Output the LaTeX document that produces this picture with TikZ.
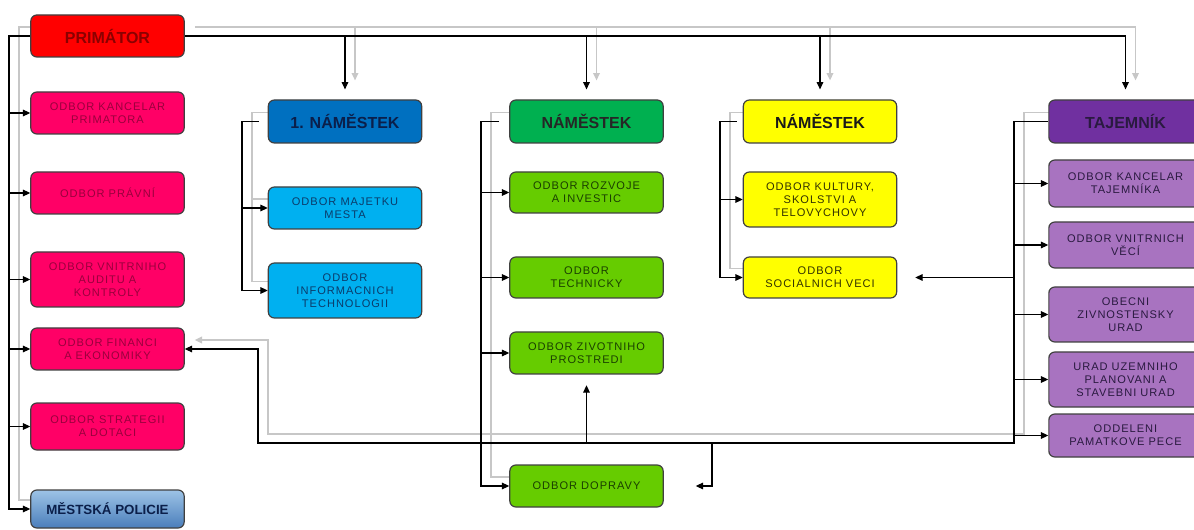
\documentclass[tikz,border=0pt]{standalone}
\usepackage{fontspec}
\setmainfont{Liberation Sans}
\newfontfamily\orgfont[LetterSpace=9]{Liberation Sans}
\usetikzlibrary{arrows.meta,backgrounds}

\definecolor{primred}{HTML}{FF0000}
\definecolor{primtext}{HTML}{8B0000}
\definecolor{pinkdept}{HTML}{FF0066}
\definecolor{pinktext}{HTML}{99003D}
\definecolor{poltop}{HTML}{9DC3E6}
\definecolor{polbot}{HTML}{4A7EBB}
\definecolor{poltext}{HTML}{0B1F4A}
\definecolor{bluehead}{HTML}{0070C0}
\definecolor{bluedept}{HTML}{00B0F0}
\definecolor{bluetext}{HTML}{0B3C6B}
\definecolor{greenhead}{HTML}{00B050}
\definecolor{greendept}{HTML}{66CC00}
\definecolor{greentext}{HTML}{1A4000}
\definecolor{yellowdept}{HTML}{FFFF00}
\definecolor{yellowtext}{HTML}{333300}
\definecolor{purplehead}{HTML}{7030A0}
\definecolor{purpledept}{HTML}{A873C0}
\definecolor{purpletext}{HTML}{2A1A40}

\tikzset{
  box/.style={draw=black!75,line width=0.9pt,rounded corners=4.5pt,
    minimum width=115pt,align=center,inner sep=1pt},
  head/.style={box,minimum height=32pt,font=\bfseries\fontsize{12}{14}\selectfont},
  dept/.style={box,font=\orgfont\fontsize{8.3}{9.6}\selectfont},
  wire/.style={line width=0.8pt,color=black},
  ghost/.style={line width=1.1pt,color=black!22}
}

\begin{document}
\begin{tikzpicture}[x=0.75pt,y=-0.75pt,>={Triangle[length=5.5pt,width=5pt]}]
\useasboundingbox (0,0) rectangle (1194,530);

% primator and his departments
\node[head,fill=primred,text=primtext,minimum height=31.5pt] (prim) at (107.5,36) {PRIMÁTOR};
\node[dept,fill=pinkdept,text=pinktext,minimum height=31.5pt] (kanc) at (107.5,113) {ODBOR KANCELAR\\PRIMATORA};
\node[dept,fill=pinkdept,text=pinktext,minimum height=31.5pt] (prav) at (107.5,193) {ODBOR PRÁVNÍ};
\node[dept,fill=pinkdept,text=pinktext,minimum height=41.25pt] (audit) at (107.5,279.5) {ODBOR VNITRNIHO\\AUDITU A\\KONTROLY};
\node[dept,fill=pinkdept,text=pinktext,minimum height=31.5pt] (fin) at (107.5,349) {ODBOR FINANCI\\A EKONOMIKY};
\node[dept,fill=pinkdept,text=pinktext,minimum height=35.25pt] (strat) at (107.5,426.5) {ODBOR STRATEGII\\A DOTACI};
\node[head,top color=poltop,bottom color=polbot,text=poltext,minimum height=28.5pt,
  font=\bfseries\fontsize{10}{12}\selectfont] (pol) at (107.5,509) {MĚSTSKÁ POLICIE};

% 1. namestek
\node[head,fill=bluehead,text=poltext,minimum height=32.25pt] (nam1) at (345,121.5) {1. NÁMĚSTEK};
\node[dept,fill=bluedept,text=bluetext,minimum height=31.5pt] (maj) at (345,208) {ODBOR MAJETKU\\MESTA};
\node[dept,fill=bluedept,text=bluetext,minimum height=41.25pt] (inf) at (345,290.5) {ODBOR\\INFORMACNICH\\TECHNOLOGII};

% namestek (green)
\node[head,fill=greenhead,text=black!85,minimum height=32.25pt] (nam2) at (586.5,121.5) {NÁMĚSTEK};
\node[dept,fill=greendept,text=greentext,minimum height=30.75pt] (rozv) at (586.5,192.5) {ODBOR ROZVOJE\\A INVESTIC};
\node[dept,fill=greendept,text=greentext,minimum height=30.75pt] (tech) at (586.5,277.5) {ODBOR\\TECHNICKY};
\node[dept,fill=greendept,text=greentext,minimum height=31.5pt] (ziv) at (586.5,353) {ODBOR ZIVOTNIHO\\PROSTREDI};
\node[dept,fill=greendept,text=greentext,minimum height=31.5pt] (dop) at (586.5,486) {ODBOR DOPRAVY};

% namestek (yellow)
\node[head,fill=yellowdept,text=black!90,minimum height=32.25pt] (nam3) at (820,121.5) {NÁMĚSTEK};
\node[dept,fill=yellowdept,text=yellowtext,minimum height=41.25pt] (kult) at (820,199.5) {ODBOR KULTURY,\\SKOLSTVI A\\TELOVYCHOVY};
\node[dept,fill=yellowdept,text=yellowtext,minimum height=30.75pt] (soc) at (820,277.5) {ODBOR\\SOCIALNICH VECI};

% tajemnik
\node[head,fill=purplehead,text=purpletext,minimum height=32.25pt] (taj) at (1125.5,121.5) {TAJEMNÍK};
\node[dept,fill=purpledept,text=purpletext,minimum height=35.25pt] (ktaj) at (1125.5,183.5) {ODBOR KANCELAR\\TAJEMNÍKA};
\node[dept,fill=purpledept,text=purpletext,minimum height=34.5pt] (vnit) at (1125.5,245) {ODBOR VNITRNICH\\VĚCÍ};
\node[dept,fill=purpledept,text=purpletext,minimum height=41.25pt] (zivn) at (1125.5,314.5) {OBECNI\\ZIVNOSTENSKY\\URAD};
\node[dept,fill=purpledept,text=purpletext,minimum height=41.25pt] (uzem) at (1125.5,379.5) {URAD UZEMNIHO\\PLANOVANI A\\STAVEBNI URAD};
\node[dept,fill=purpledept,text=purpletext,minimum height=32.25pt] (pam) at (1125.5,435.5) {ODDELENI\\PAMATKOVE PECE};

% trunk positions
\coordinate (lb) at (9,0);
\coordinate (c2) at (242,0);
\coordinate (c3) at (481,0);
\coordinate (c4) at (720,0);
\coordinate (rt) at (1014,0);
\coordinate (bot) at (0,443);
\coordinate (fx) at (258,0);
\coordinate (dx) at (712,0);

\begin{scope}[on background layer]
  % grey copies of the connectors
  \begin{scope}[ghost,transform canvas={xshift=7.5pt,yshift=6.75pt}]
    \draw (prim.west) -| (lb |- pol.west) -- (pol.west);
    \draw[->,shorten >=7.5pt] (prim.east) -| (taj.north);
    \foreach \n in {nam1,nam2,nam3}
      \draw[->,shorten >=7.5pt] (prim.east -| \n.north) -- (\n.north);
    \draw[->,shorten <=6.75pt] (nam1.west) -| (c2 |- inf.west) -- (inf.west);
    \draw[->] (c2 |- maj.west) -- (maj.west);
    \draw[->,shorten <=7.5pt] (nam2.west) -| (c3 |- dop.west) -- (dop.west);
    \draw[->,shorten <=4.5pt] (nam3.west) -| (c4 |- soc.west) -- (soc.west);
    \draw[->] (taj.west) -| (rt |- bot) -| (fx |- fin.east) -- (fin.east);
  \end{scope}

  % black connectors
  \begin{scope}[wire]
    \draw[->] (prim.west) -| (lb |- pol.west) -- (pol.west);
    \foreach \n in {kanc,prav,audit,fin,strat}
      \draw[->] (lb |- \n.west) -- (\n.west);
    \draw[->,shorten >=7.5pt] (prim.east) -| (taj.north);
    \foreach \n in {nam1,nam2,nam3}
      \draw[->,shorten >=7.5pt] (prim.east -| \n.north) -- (\n.north);
    \draw[->,shorten <=6.75pt] (nam1.west) -| (c2 |- inf.west) -- (inf.west);
    \draw[->] (c2 |- maj.west) -- (maj.west);
    \draw[->,shorten <=7.5pt] (nam2.west) -| (c3 |- dop.west) -- (dop.west);
    \foreach \n in {rozv,tech,ziv}
      \draw[->] (c3 |- \n.west) -- (\n.west);
    \draw[->,shorten <=4.5pt] (nam3.west) -| (c4 |- soc.west) -- (soc.west);
    \draw[->] (c4 |- kult.west) -- (kult.west);
    \draw[->] (taj.west) -| (rt |- bot) -| (fx |- fin.east) -- (fin.east);
    \foreach \n in {ktaj,vnit,zivn,uzem,pam}
      \draw[->] (rt |- \n.west) -- (\n.west);
    \draw[->,shorten >=13.5pt] (rt |- soc.east) -- (soc.east);
    \draw[->,shorten >=8pt] (ziv.south |- bot) -- (ziv.south);
    \draw[->,shorten >=24pt] (dx |- bot) |- (dop.east);
  \end{scope}
\end{scope}
\end{tikzpicture}
\end{document}
